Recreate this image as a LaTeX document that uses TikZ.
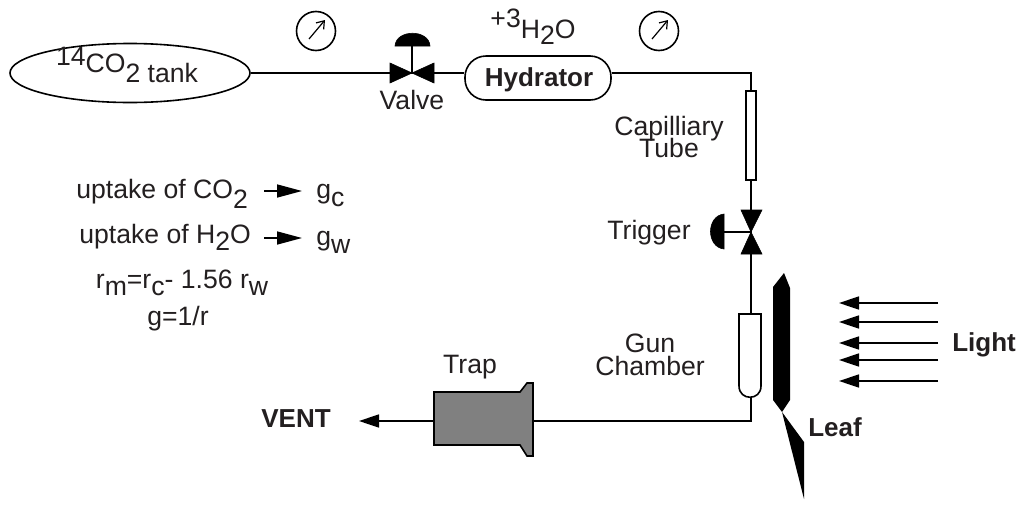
\documentclass[tikz,border=0pt]{standalone}
\usepackage{fontspec}
\setmainfont{Liberation Sans}
\usepackage{xcolor}
\usetikzlibrary{positioning,shapes.geometric,arrows.meta}
\definecolor{cink}{RGB}{35,31,32}
\definecolor{ctrap}{RGB}{128,128,128}
\newcommand{\lowr}[2][0.38em]{\raisebox{-#1}{#2}}
\newcommand{\upr}[2][0.38em]{\raisebox{#1}{#2}}

\begin{document}
\begin{tikzpicture}[
    x=0.5pt, y=-0.5pt,
    label/.style={inner sep=0pt, anchor=base, text=cink, align=center, font=\fontsize{13.3}{11.5}\selectfont},
    boldlabel/.style={label, font=\fontsize{13}{11.5}\selectfont\bfseries},
    twoline/.style={label, anchor=center},
    pipe/.style={line width=0.8pt},
    flow/.style={line width=0.8pt, -{Triangle[length=10pt,width=6.5pt]}},
    relation/.style={line width=0.8pt, -{Triangle[length=12.5pt,width=6.5pt]}},
    dial/.style={line width=0.6pt, -{Straight Barb[length=3.5pt,width=5pt]}},
    gauge/.style={draw, circle, pipe, minimum size=19.5pt, inner sep=0pt},
    solid/.style={fill=black, draw=black, line width=0.3pt}
  ]
  \useasboundingbox (0,0) rectangle (1016,504);

  \node[draw, ellipse, pipe, minimum width=120pt, minimum height=29.5pt, inner sep=0pt] (tank) at (130,73) {};
  \node[label] (tanktxt) at (127,72) {\upr[0.26em]{14}CO\lowr{2 tank}};
  \node[draw, pipe, rounded corners=10.5pt, minimum width=73pt, minimum height=22pt] (hydrator) at (538,78) {};
  \node[boldlabel] (hydtxt) at (539,86) {Hydrator};

  % valves, joints sit at the crossing of the triangles
  \coordinate (valve) at (412,73);
  \coordinate (trigger) at (751,232);
  \coordinate (corner) at (751,73);
  \coordinate (bend) at (751,421);
  \coordinate (vent) at (359,421);

  % tube pieces
  \coordinate (captop) at (751,91);
  \coordinate (capbot) at (751,180);
  \coordinate (guntop) at (751,314);
  \coordinate (gunbot) at (751,397);
  \coordinate (trapin) at (533,421);
  \coordinate (trapout) at (434,421);

  \draw[pipe] (tank.east) -- (valve);
  \draw[pipe] (valve) -- (hydrator.west |- valve);
  \draw[pipe] (hydrator.east |- corner) -- (corner) -- (captop);
  \draw[pipe] (capbot) -- (trigger);
  \draw[pipe] (trigger) -- (guntop);
  \draw[pipe] (gunbot) -- (bend) -- (trapin);
  \draw[flow] (trapout) -- (vent);

  \draw[solid] (390,63) -- (412,73) -- (390,83) -- cycle;
  \draw[solid] (434,63) -- (412,73) -- (434,83) -- cycle;
  \draw[pipe] (valve) -- (412,46);
  \draw[solid] (395,46) .. controls (396,29) and (429,29) .. (430,46) -- cycle;

  \draw[solid] (741,210) -- (751,232) -- (762,210) -- cycle;
  \draw[solid] (741,254) -- (751,232) -- (762,254) -- cycle;
  \draw[pipe] (trigger) -- (724,232);
  \draw[solid] (724,214) .. controls (706,216) and (706,247) .. (724,249) -- cycle;

  \draw[pipe, fill=white] (746,91) rectangle (756,180);
  \draw[pipe, fill=white] (739,314) -- (761,314) -- (761,386) .. controls (761,401) and (739,401) .. (739,386) -- cycle;
  \draw[pipe, fill=ctrap] (434,392) -- (520,392) -- (527,383) -- (533,383) -- (533,456) -- (527,456) -- (520,445) -- (434,445) -- cycle;

  % gauges
  \node[gauge] (gaugea) at (316,31) {};
  \node[gauge] (gaugeb) at (659,31) {};
  \draw[dial] (gaugea.center) ++(-7,8) -- ++(16,-19);
  \draw[dial] (gaugeb.center) ++(-7,8) -- ++(16,-19);

  % leaf
  \fill (784,273) -- (790,288) -- (790,400) -- (782,412) -- (804,442) -- (804,499) -- (782,412) -- (773,400) -- (773,287) -- cycle;

  % light
  \coordinate (lamp) at (938,345);
  \coordinate (la) at (839,303);
  \coordinate (lb) at (839,322);
  \coordinate (lc) at (839,343);
  \coordinate (ld) at (839,360);
  \coordinate (le) at (839,381);
  \draw[flow] (lamp |- la) -- (la);
  \draw[flow] (lamp |- lb) -- (lb);
  \draw[flow] (lamp |- lc) -- (lc);
  \draw[flow] (lamp |- ld) -- (ld);
  \draw[flow] (lamp |- le) -- (le);

  \node[label] (valvetxt) at (412,109) {Valve};
  \node[label] (water) at (533,38) {\upr[0.38em]{+3}H\lowr[0.26em]{2}O};
  \node[twoline] (captxt) at (669,137) {Capilliary\\[-2pt]Tube};
  \node[label] (trigtxt) at (649,239) {Trigger};
  \node[twoline] (guntxt) at (650,355) {Gun\\Chamber};
  \node[label] (traptxt) at (470,373) {Trap};
  \node[boldlabel] (venttxt) at (296,427) {VENT};
  \node[boldlabel] (leaftxt) at (835,436) {Leaf};
  \node[boldlabel] (lighttxt) at (984,351) {Light};

  % relations on the left
  \node[label, anchor=base west] (co) at (76,198) {uptake of CO\lowr{2}};
  \node[label, anchor=base west] (gc) at (316,198) {g\lowr[0.33em]{c}};
  \node[label, anchor=base west] (hw) at (79,243) {uptake of H\lowr[0.3em]{2}O};
  \node[label, anchor=base west] (gw) at (316,245) {g\lowr[0.33em]{w}};
  \coordinate (coa) at (264,191);
  \coordinate (hwa) at (264,238);
  \coordinate (cob) at (302,191);
  \coordinate (hwb) at (302,238);
  \draw[relation] (coa) -- (cob);
  \draw[relation] (hwa) -- (hwb);
  \node[label] (resist) at (182,288) {r\lowr[0.3em]{m}=r\lowr[0.3em]{c}- 1.56 r\lowr[0.3em]{w}};
  \node[label] (conduct) at (178,325) {g=1/r};
\end{tikzpicture}
\end{document}
